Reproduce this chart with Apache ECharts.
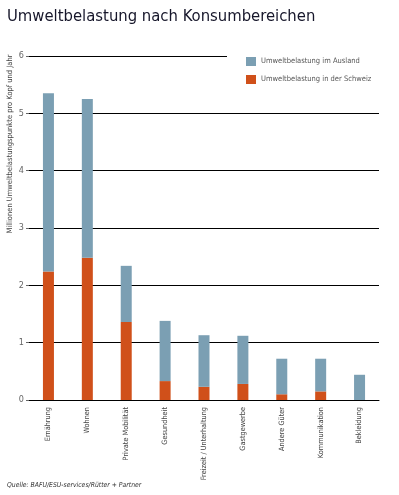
<!DOCTYPE html>
<html>
<head>
<meta charset="utf-8">
<script src="https://cdn.jsdelivr.net/npm/echarts@6/dist/echarts.min.js"></script>
<style>
  html, body { margin: 0; padding: 0; background: #fff; }
  #main { width: 399px; height: 495px; }
</style>
</head>
<body>
<div id="main"></div>
<script>
var categories = ['Ernährung', 'Wohnen', 'Private Mobilität', 'Gesundheit', 'Freizeit / Unterhaltung',
    'Gastgewerbe', 'Andere Güter', 'Kommunikation', 'Bekleidung'];
var schweiz = [2.24, 2.48, 1.36, 0.33, 0.23, 0.28, 0.10, 0.15, 0];
var ausland = [3.11, 2.77, 0.98, 1.05, 0.90, 0.84, 0.62, 0.57, 0.44];
var yTicks = [0, 1, 2, 3, 4, 5, 6];

var font = '"DejaVu Sans Condensed", "Liberation Sans", sans-serif';
var myChart = echarts.init(document.getElementById('main'));

var option = {
    animation: false,
    color: ['#7b9fb3', '#d0501a'],
    title: [{
        text: 'Umweltbelastung nach Konsumbereichen',
        left: 7,
        top: 8,
        padding: 0,
        textStyle: { fontFamily: font, fontSize: 16.5, fontWeight: 'normal', color: '#16162a' }
    }, {
        text: 'Quelle: BAFU/ESU-services/Rütter + Partner',
        left: 7,
        top: 482,
        padding: 0,
        textStyle: { fontFamily: font, fontSize: 6.8, fontStyle: 'italic', fontWeight: 'normal', color: '#333' }
    }],
    legend: {
        data: ['Umweltbelastung im Ausland', 'Umweltbelastung in der Schweiz'],
        orient: 'vertical',
        left: 246,
        top: 57,
        padding: 0,
        z: 10,
        itemWidth: 10,
        itemHeight: 9,
        itemGap: 9,
        icon: 'rect',
        textStyle: { fontFamily: font, fontSize: 7.5, color: '#555' }
    },
    grid: {
        left: 29,
        right: 20,
        top: 56,
        bottom: 95,
        containLabel: false,
        outerBoundsMode: 'none'
    },
    xAxis: {
        type: 'category',
        data: categories,
        axisLine: { lineStyle: { color: '#000', width: 1 } },
        axisTick: { show: false },
        axisLabel: {
            rotate: 90,
            margin: 7,
            interval: 0,
            fontFamily: font,
            fontSize: 7.3,
            color: '#444'
        }
    },
    yAxis: {
        type: 'value',
        min: yTicks[0],
        max: yTicks[yTicks.length - 1],
        interval: 1,
        axisLine: { show: false },
        axisTick: { show: true, length: 3, lineStyle: { color: '#666' } },
        splitLine: { lineStyle: { color: '#000', width: 1 } },
        axisLabel: { margin: 5, fontFamily: font, fontSize: 9, color: '#666' }
    },
    graphic: [{
        type: 'rect',
        left: 227,
        top: 53,
        shape: { width: 172, height: 6 },
        style: { fill: '#fff' },
        z: 5
    }, {
        type: 'text',
        x: 10,
        y: 144,
        rotation: Math.PI / 2,
        style: {
            text: 'Millionen Umweltbelastungspunkte pro Kopf und Jahr',
            font: '7.5px ' + font,
            fill: '#444',
            align: 'center',
            verticalAlign: 'middle'
        },
        z: 5
    }],
    series: [{
        name: 'Umweltbelastung in der Schweiz',
        type: 'bar',
        stack: 'total',
        barWidth: 11,
        itemStyle: { color: '#d0501a' },
        data: schweiz
    }, {
        name: 'Umweltbelastung im Ausland',
        type: 'bar',
        stack: 'total',
        barWidth: 11,
        itemStyle: { color: '#7b9fb3' },
        data: ausland
    }]
};

myChart.setOption(option);
</script>
</body>
</html>
